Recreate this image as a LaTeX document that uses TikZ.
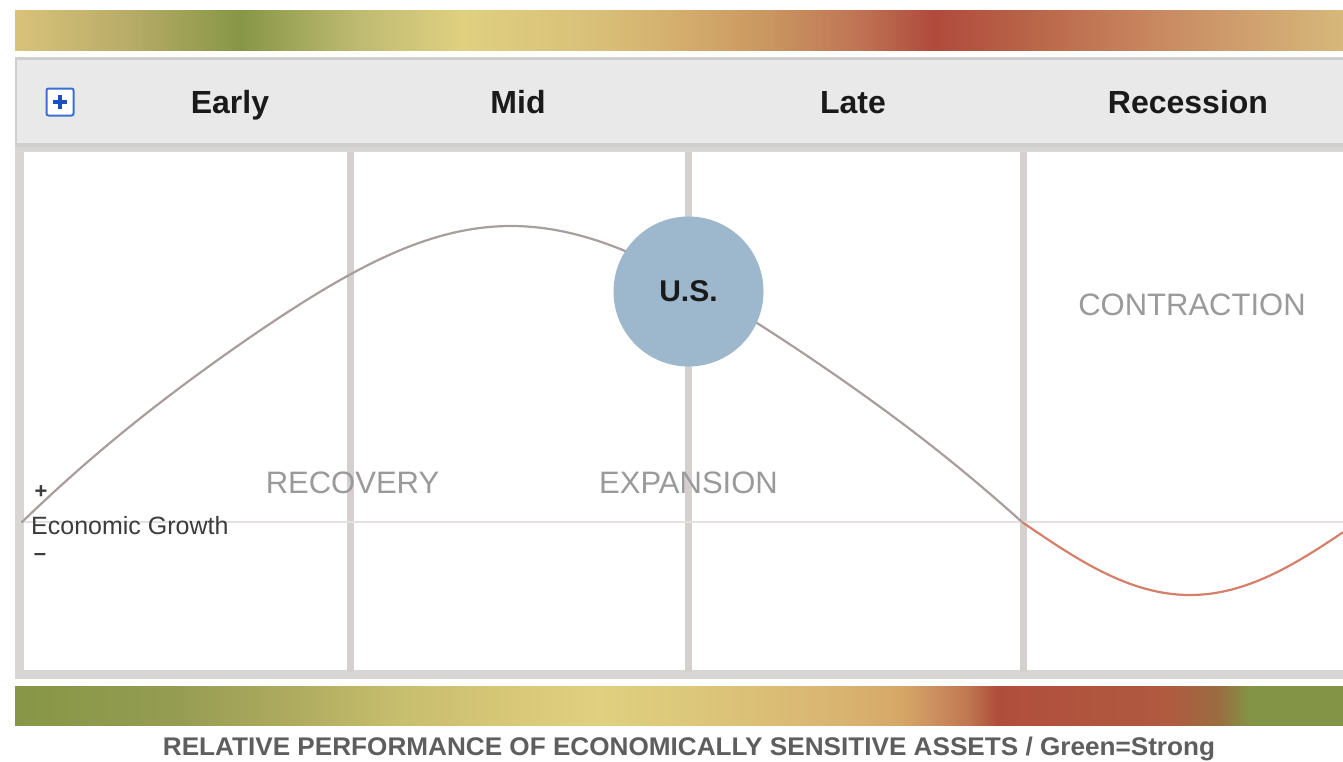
\documentclass[tikz,border=0pt]{standalone}
\usepackage{fontspec}
\setmainfont{Liberation Sans}
\usepackage{graphicx}
% top bar colours
\definecolor{ta}{HTML}{D9C27A}
\definecolor{tb}{HTML}{B8AC68}
\definecolor{tc}{HTML}{879646}
\definecolor{td}{HTML}{BFBB72}
\definecolor{te}{HTML}{E0D080}
\definecolor{tf}{HTML}{D8BF78}
\definecolor{tg}{HTML}{D4AC6C}
\definecolor{th}{HTML}{C99560}
\definecolor{ti}{HTML}{C07555}
\definecolor{tj}{HTML}{B04A3C}
\definecolor{tk}{HTML}{B86448}
\definecolor{tl}{HTML}{C47C58}
\definecolor{tm}{HTML}{CC9468}
\definecolor{tn}{HTML}{D6B87A}
% bottom bar colours
\definecolor{ba}{HTML}{879646}
\definecolor{bb}{HTML}{949C52}
\definecolor{bc}{HTML}{B0AC60}
\definecolor{bd}{HTML}{C4BC6C}
\definecolor{be}{HTML}{D8C878}
\definecolor{bf}{HTML}{E0D080}
\definecolor{bg}{HTML}{DCC87A}
\definecolor{bh}{HTML}{DAB874}
\definecolor{bi}{HTML}{D6A868}
\definecolor{bj}{HTML}{CC9060}
\definecolor{bk}{HTML}{C07850}
\definecolor{bl}{HTML}{B04E3C}
\definecolor{bm}{HTML}{B05A40}
\definecolor{bn}{HTML}{9A6C40}
\definecolor{bo}{HTML}{849446}
% other colours
\definecolor{hdrborder}{HTML}{CFCFCF}
\definecolor{hdrfill}{HTML}{E9E9E9}
\definecolor{panelgray}{HTML}{D8D5D5}
\definecolor{divider}{HTML}{D4D0D0}
\definecolor{axisline}{HTML}{E4E0E0}
\definecolor{curvegray}{HTML}{A89E9E}
\definecolor{curvered}{HTML}{D4806A}
\definecolor{usblue}{HTML}{9DB8CC}
\definecolor{labelgray}{HTML}{9A9A9A}
\definecolor{hdrtext}{HTML}{1A1A1A}
\definecolor{foottext}{HTML}{5E5E5E}
\definecolor{iconblue}{HTML}{3A6FD8}
\definecolor{iconplus}{HTML}{1E4FC0}

\pgfdeclarehorizontalshading{topbar}{100bp}{%
color(0bp)=(ta); color(25bp)=(ta); color(29.25bp)=(tb); color(33.47bp)=(tc);
color(37.99bp)=(td); color(41.83bp)=(te); color(47.03bp)=(tf); color(50.23bp)=(tg);
color(53.46bp)=(th); color(56.66bp)=(ti); color(59.6bp)=(tj); color(63.14bp)=(tk);
color(66.34bp)=(tl); color(69.58bp)=(tm); color(75bp)=(tn); color(100bp)=(tn)}
\pgfdeclarehorizontalshading{botbar}{100bp}{%
color(0bp)=(ba); color(25bp)=(ba); color(30.87bp)=(bb); color(35.73bp)=(bc);
color(38.93bp)=(bd); color(43.79bp)=(be); color(47.03bp)=(bf); color(50.23bp)=(bg);
color(55.08bp)=(bh); color(58.32bp)=(bi); color(59.56bp)=(bj); color(60.84bp)=(bk);
color(61.97bp)=(bl); color(68.37bp)=(bm); color(70.26bp)=(bn); color(71.5bp)=(bo);
color(75bp)=(bo); color(100bp)=(bo)}

\tikzset{
  hdrlabel/.style={anchor=base, text=hdrtext, font=\fontsize{32}{38}\selectfont\bfseries},
  phaselabel/.style={anchor=base, text=labelgray, font=\fontsize{31}{37}\selectfont},
  dividerline/.style={draw=divider, line width=7pt},
  axislabel/.style={text=hdrtext!85, font=\fontsize{25}{30}\selectfont},
}

\begin{document}
\begin{tikzpicture}[x=1pt,y=-1pt,
  declare function={
    th(\t)=180*(\t+0.011*sin(180*\t));
    gy(\t)=522-296*(sin(th(\t))-0.05*sin(2*th(\t))*sin(2*th(\t)));
  }]
\useasboundingbox (0,0) rectangle (1343,761);
\fill[white] (0,0) rectangle (1343,761);

% top colour bar
\shade[shading=topbar] (15,10) rectangle (1343,50);

% header strip
\fill[hdrborder] (15,57) rectangle (1343,148);
\fill[hdrfill] (17,60) rectangle (1343,143);

% chart panel
\fill[panelgray] (15,147) rectangle (1343,679);
\fill[white] (24,152) rectangle (1343,670);

% dividers
\coordinate (d1t) at (350,152); \coordinate (d1b) at (350,672);
\coordinate (d2t) at (688,152); \coordinate (d2b) at (688,672);
\coordinate (d3t) at (1023,152); \coordinate (d3b) at (1023,672);
\draw[dividerline] (d1t) -- (d1b);
\draw[dividerline] (d2t) -- (d2b);
\draw[dividerline] (d3t) -- (d3b);

% axis
\coordinate (axl) at (24,522); \coordinate (axr) at (1343,522);
\draw[axisline, line width=2.5pt] (axl) -- (axr);

% curve
\draw[curvegray, line width=2.2pt, line cap=round]
  plot[domain=0:1, variable=\t, samples=160, smooth] ({22+1000*\t}, {gy(\t)});
\draw[curvered, line width=2.2pt]
  plot[domain=1022:1343, samples=80, smooth] (\x, {522 + 73*sin(0.535714*(\x-1022))});

% U.S. circle
\node[circle, fill=usblue, minimum size=150pt, inner sep=0pt,
      text=hdrtext, font=\fontsize{30}{36}\selectfont\bfseries] (us) at (688.5,291.5) {U.S.};

% header labels
\node[draw=iconblue, line width=2pt, rounded corners=2pt, fill=white,
      minimum size=27pt, inner sep=0pt] (plusbox) at (60,102) {};
\draw[iconplus, line width=3.5pt] ([xshift=-7pt]plusbox.center) -- ([xshift=7pt]plusbox.center);
\draw[iconplus, line width=3.5pt] ([yshift=-7pt]plusbox.center) -- ([yshift=7pt]plusbox.center);
\node[hdrlabel] (early) at (230,113) {Early};
\node[hdrlabel] (mid) at (518,113) {Mid};
\node[hdrlabel] (late) at (853,113) {Late};
\node[hdrlabel] (recession) at (1188,113) {Recession};

% phase labels
\node[phaselabel] (recovery) at (352.5,493) {RECOVERY};
\node[phaselabel] (expansion) at (688.5,493) {EXPANSION};
\node[phaselabel] (contraction) at (1192,315) {CONTRACTION};

% axis labels
\node[axislabel, font=\fontsize{22}{26}\selectfont\bfseries] (plus) at (41,492) {+};
\node[axislabel, anchor=base west, inner sep=0pt] (econ) at (31,534) {Economic Growth};
\node[axislabel, font=\fontsize{22}{26}\selectfont\bfseries] (minus) at (40,557) {\textendash};

% bottom colour bar
\shade[shading=botbar] (15,686) rectangle (1343,725);

% footer text
\node[anchor=base, text=foottext, inner sep=0pt] (footer) at (689,755)
  {\resizebox{1052pt}{18.5pt}{\bfseries RELATIVE PERFORMANCE OF ECONOMICALLY SENSITIVE ASSETS / Green=Strong}};
\end{tikzpicture}
\end{document}
